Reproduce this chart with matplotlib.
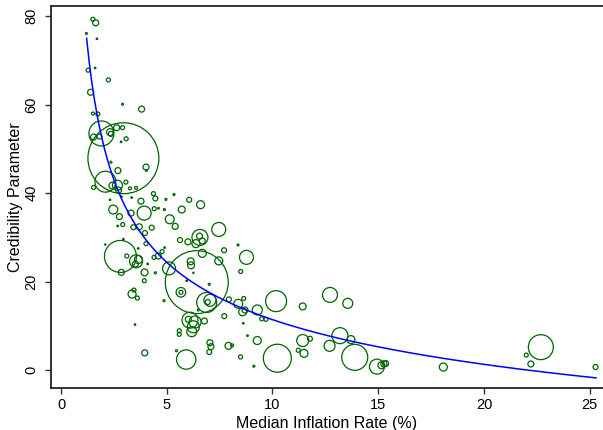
import numpy as np
import matplotlib
matplotlib.use("Agg")
import matplotlib.pyplot as plt

plt.rcParams['font.family'] = ['Liberation Sans', 'DejaVu Sans']

# Median inflation rate (%)
inflation = [
    1.51, 1.64, 1.20, 1.70, 1.28, 1.61, 2.24, 1.40, 3.81, 2.91,
    1.51, 1.74, 1.91, 1.54, 1.82, 2.32, 2.36, 2.63, 2.91, 3.08,
    2.84, 2.95, 4.02, 4.04, 2.36, 2.10, 2.67, 2.69, 3.07, 2.43,
    2.72, 1.54, 3.26, 3.55, 4.37, 4.46, 5.34, 4.96, 3.78, 2.86,
    2.32, 3.34, 6.06, 6.60, 2.47, 2.76, 3.31, 3.93, 4.41, 4.61,
    4.89, 5.71, 5.14, 5.40, 2.92, 2.68, 3.42, 3.70, 4.29, 3.97,
    2.09, 2.95, 4.02, 3.65, 5.63, 6.57, 6.55, 6.68, 6.38, 6.00,
    7.46, 8.37, 7.71, 4.90, 4.78, 4.60, 4.40, 2.81, 3.11, 3.55,
    3.66, 3.52, 4.10, 5.11, 3.95, 4.46, 2.85, 3.94, 3.45, 3.36,
    3.61, 3.50, 3.96, 5.46, 5.92, 6.42, 5.94, 7.01, 6.26, 5.67,
    5.67, 6.68, 6.13, 6.15, 7.46, 8.77, 8.50, 6.89, 6.94, 7.04,
    4.87, 7.94, 8.38, 8.64, 8.59, 8.70, 7.72, 8.62, 8.82, 6.10,
    6.34, 6.26, 6.18, 6.02, 6.78, 6.49, 5.59, 5.59, 7.04, 7.09,
    7.01, 7.92, 8.09, 8.49, 9.12, 9.28, 9.49, 9.69, 9.28, 10.17,
    10.23, 11.43, 12.72, 13.56, 11.43, 11.77, 11.22, 11.49, 12.70, 13.19,
    13.71, 13.89, 14.94, 15.15, 15.27, 15.35, 18.08, 22.00, 22.22, 22.69,
    25.28,
]

# Credibility parameter
credibility = [
    79.3, 78.5, 76.1, 74.9, 67.8, 68.3, 65.6, 62.8, 59.0, 60.1,
    58.0, 57.9, 53.5, 52.7, 52.8, 53.8, 53.4, 54.8, 54.8, 52.3,
    51.6, 47.9, 45.9, 45.1, 47.0, 42.6, 41.8, 45.1, 42.5, 41.7,
    40.7, 41.3, 41.1, 41.2, 39.9, 38.8, 39.7, 38.6, 38.2, 39.2,
    38.5, 39.0, 38.5, 37.4, 36.3, 34.7, 35.5, 35.5, 36.5, 36.6,
    36.3, 36.3, 34.1, 32.5, 32.9, 32.6, 32.3, 32.4, 32.2, 31.0,
    28.4, 29.6, 28.6, 27.5, 29.4, 30.0, 30.3, 29.2, 28.6, 29.0,
    31.8, 28.3, 27.1, 27.7, 26.8, 25.8, 25.5, 25.7, 25.8, 24.6,
    25.0, 24.0, 24.0, 23.0, 22.1, 22.0, 22.1, 20.2, 18.1, 17.2,
    16.3, 10.3, 3.9, 4.4, 2.4, 19.9, 20.2, 19.4, 22.0, 17.6,
    17.6, 26.4, 24.6, 23.7, 24.7, 25.5, 22.3, 15.3, 15.4, 15.8,
    15.7, 16.0, 15.0, 16.2, 13.2, 13.6, 12.2, 10.6, 7.8, 11.3,
    10.9, 9.8, 8.7, 11.5, 11.1, 13.6, 8.9, 8.1, 6.2, 5.3,
    4.1, 5.5, 5.6, 3.0, 0.9, 13.6, 11.6, 11.5, 6.7, 15.6,
    2.7, 14.4, 17.0, 15.1, 6.7, 7.1, 4.5, 3.8, 5.5, 7.8,
    6.9, 2.9, 0.8, 1.1, 1.4, 1.5, 0.7, 3.4, 1.4, 5.2,
    0.7,
]

# Weight of each observation (marker area is proportional to it)
weight = [
    4, 9, 1, 0.6, 4, 0.6, 4, 9, 9, 1,
    2.2, 4, 156, 9, 6.2, 12, 6.2, 9, 4, 4,
    0.6, 1260, 9, 0.6, 1, 110, 25, 9, 4, 12,
    9, 4, 2.2, 2.2, 4, 6.2, 1, 1, 9, 0.6,
    0.6, 0.6, 6.2, 16, 20, 9, 9, 49, 4, 0.6,
    1, 12, 20, 9, 4, 0.6, 6.2, 9, 6.2, 6.2,
    0.4, 0.6, 4, 0.6, 6.2, 64, 9, 9, 16, 9,
    49, 1, 6.2, 0.6, 4, 9, 4, 256, 4, 42,
    16, 9, 0.6, 42, 12, 1, 9, 4, 4, 16,
    4, 0.6, 9, 1, 94, 992, 0.6, 1, 0.4, 23,
    4, 16, 12, 12, 16, 49, 4, 100, 6.2, 36,
    1, 6.2, 20, 4, 16, 9, 6.2, 0.6, 0.6, 64,
    36, 36, 25, 9, 9, 1, 4, 4, 9, 9,
    6.2, 12, 2.2, 4, 1, 25, 4, 4, 16, 110,
    196, 12, 56, 25, 36, 6.2, 4, 16, 30, 64,
    16, 169, 56, 12, 9, 9, 16, 4, 9, 156,
    6.2,
]

# Fitted curve: cred = a + b*ln(x) + c/x
fit_a, fit_b, fit_c = 29.76, -10.45, 57.16
fit_xmin, fit_xmax = 1.21, 25.3

fig = plt.figure(figsize=(6.03, 4.30), dpi=100)
ax = fig.add_axes([0.084, 0.098, 0.916, 0.888])

x = np.array(inflation)
y = np.array(credibility)
w = np.array(weight)
ax.scatter(x, y, s=w * 2.07, facecolors='none', edgecolors='#006400',
           linewidths=0.9, zorder=2)

xf = np.linspace(fit_xmin, fit_xmax, 400)
yf = fit_a + fit_b * np.log(xf) + fit_c / xf
ax.plot(xf, yf, color='#0000ff', lw=1.1, zorder=3)

ax.set_xlim(-0.49, 25.63)
ax.set_ylim(-4.0, 82.3)
ax.set_xticks([0, 5, 10, 15, 20, 25])
ax.set_yticks([0, 20, 40, 60, 80])
ax.tick_params(axis='both', direction='out', length=4, width=1.0,
               color='#333333', labelsize=10.5)
ax.tick_params(axis='x', pad=3)
ax.tick_params(axis='y', pad=5)
for lbl in ax.get_yticklabels():
    lbl.set_rotation(90)
    lbl.set_va('center')
ax.spines['right'].set_visible(False)
for sp in ax.spines.values():
    sp.set_linewidth(1.3)
    sp.set_color('#222222')

ax.set_xlabel('Median Inflation Rate (%)', fontsize=11.5, labelpad=3)
ax.set_ylabel('Credibility Parameter', fontsize=11.5, labelpad=1)

fig.savefig('out.png', dpi=100)
